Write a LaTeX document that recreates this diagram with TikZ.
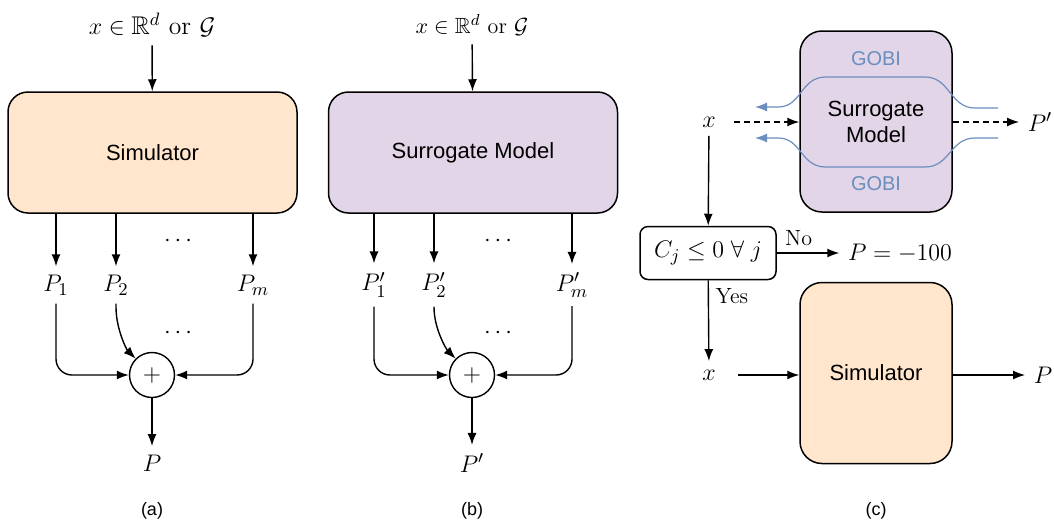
\documentclass[tikz,border=0pt]{standalone}
\usepackage{fontspec}
\setsansfont{Liberation Sans}
\usepackage{amsmath,amssymb}
\usetikzlibrary{arrows.meta, positioning}

\definecolor{simfill}{HTML}{FFE6CC}
\definecolor{surfill}{HTML}{E1D5E7}
\definecolor{gobiblue}{HTML}{6C8EBF}

\begin{document}
\begin{tikzpicture}[
        x=0.5pt, y=-0.5pt,
        every node/.style={font=\sffamily},
        line width=0.7pt,
        >={Latex[length=6pt, width=4.5pt]},
        bigbox/.style={rectangle, draw, rounded corners=10pt, line width=0.75pt, minimum width=144.5pt, minimum height=60.5pt, align=center, font=\sffamily\fontsize{11}{13}\selectfont},
        tallbox/.style={rectangle, draw, rounded corners=11pt, line width=0.75pt, minimum width=76pt, minimum height=90.5pt, align=center, font=\sffamily\fontsize{11}{13}\selectfont},
        condbox/.style={rectangle, draw, rounded corners=4pt, line width=0.75pt, minimum width=68pt, minimum height=26.5pt, font=\fontsize{12.8}{15}\selectfont},
        mathlbl/.style={inner sep=4pt, font=\fontsize{12.8}{15}\selectfont},
        plusnode/.style={circle, draw, minimum size=22.5pt, inner sep=0pt, font=\fontsize{12}{14}\selectfont},
        arrow/.style={->},
        dasharrow/.style={->, dash pattern=on 3pt off 2pt},
        gobi/.style={->, gobiblue, line width=0.6pt},
        caption/.style={font=\sffamily\fontsize{9}{11}\selectfont}
    ]
        \useasboundingbox (0,0) rectangle (1054,521);

        % (a) Simulator
        \node[mathlbl] (ina) at (152,25) {$x \in \mathbb{R}^d$ or $\mathcal{G}$};
        \node[bigbox, fill=simfill] (sima) at (152.5,152.5) {Simulator};
        \node[mathlbl] (pa1) at (56,285) {$P_1$};
        \node[mathlbl] (pa2) at (116,285) {$P_2$};
        \node[mathlbl] (pam) at (253,285) {$P_m$};
        \node[mathlbl] at (180,241) {$\cdots$};
        \node[mathlbl] at (180,333) {$\cdots$};
        \node[plusnode] (plusa) at (152,375) {$+$};
        \node[mathlbl] (outa) at (152,463) {$P$};

        \draw[arrow] (ina) -- (sima);
        \draw[arrow] (sima.south -| pa1) -- (pa1);
        \draw[arrow] (sima.south -| pa2) -- (pa2);
        \draw[arrow] (sima.south -| pam) -- (pam);
        \draw[arrow, rounded corners=8pt] (pa1) |- (plusa);
        \draw[arrow, rounded corners=8pt] (pam) |- (plusa);
        \draw[arrow] (pa2) -- ++(0,22) .. controls +(0,22) and +(-9,-9) .. (plusa.135);
        \draw[arrow] (plusa) -- (outa);

        % (b) Surrogate model
        \node[mathlbl, font=\fontsize{11}{13}\selectfont] (inb) at (472,25) {$x \in \mathbb{R}^d$ or $\mathcal{G}$};
        \node[bigbox, fill=surfill] (surb) at (473,152.5) {Surrogate Model};
        \node[mathlbl] (pb1) at (374,285) {$P'_1$};
        \node[mathlbl] (pb2) at (434,285) {$P'_2$};
        \node[mathlbl] (pbm) at (572,285) {$P'_m$};
        \node[mathlbl] at (500,241) {$\cdots$};
        \node[mathlbl] at (500,333) {$\cdots$};
        \node[plusnode] (plusb) at (472,375) {$+$};
        \node[mathlbl] (outb) at (472,463) {$P'$};

        \draw[arrow] (inb) -- (surb);
        \draw[arrow] (surb.south -| pb1) -- (pb1);
        \draw[arrow] (surb.south -| pb2) -- (pb2);
        \draw[arrow] (surb.south -| pbm) -- (pbm);
        \draw[arrow, rounded corners=8pt] (pb1) |- (plusb);
        \draw[arrow, rounded corners=8pt] (pbm) |- (plusb);
        \draw[arrow] (pb2) -- ++(0,22) .. controls +(0,22) and +(-9,-9) .. (plusb.135);
        \draw[arrow] (plusb) -- (outb);

        % (c) Constraint check, surrogate and simulator
        \node[tallbox, fill=surfill] (surc) at (876,121.5) {Surrogate\\Model};
        \node[font=\sffamily\fontsize{10}{12}\selectfont, text=gobiblue] (gobitop) at (876,59) {GOBI};
        \node[font=\sffamily\fontsize{10}{12}\selectfont, text=gobiblue] (gobibot) at (876,184) {GOBI};
        \node[mathlbl] (xsur) at (709,122) {$x$};
        \node[mathlbl] (psur) at (1040,122) {$P'$};
        \node[condbox] (cond) at (708,253) {$C_j \leq 0 \; \forall \; j$};
        \node[mathlbl] (pneg) at (900,253) {$P = -100$};
        \node[mathlbl] (xsim) at (709,375) {$x$};
        \node[tallbox, fill=simfill] (simc) at (876,373) {Simulator};
        \node[mathlbl] (psim) at (1043,375) {$P$};

        \coordinate (gobi1) at (998,108);
        \coordinate (gobi2) at (998,138);
        \coordinate (back1) at (755,107);
        \coordinate (back2) at (755,138);

        \draw[dasharrow, shorten <=5pt] (xsur) -- (surc.west |- xsur);
        \draw[dasharrow] (surc.east |- psur) -- (psur);
        \draw[gobi] (gobi1) -- ++(-23,0) .. controls +(-25,0) and +(25,0) .. (925,77) -- (826,77) .. controls +(-26,0) and +(24,0) .. (778,107) -- (back1);
        \draw[gobi] (gobi2) -- ++(-23,0) .. controls +(-25,0) and +(25,0) .. (925,167) -- (826,167) .. controls +(-26,0) and +(24,0) .. (778,138) -- (back2);
        \draw[arrow] (xsur) -- (cond);
        \draw[arrow] (cond) -- node[above, pos=0.35, font=\fontsize{11}{13}\selectfont] {No} (pneg);
        \draw[arrow] (cond) -- node[right, pos=0.2, font=\fontsize{11}{13}\selectfont] {Yes} (xsim);
        \draw[arrow, shorten <=7pt] (xsim) -- (simc.west |- xsim);
        \draw[arrow] (simc.east |- psim) -- (psim);

        % Captions
        \node[caption] (capa) at (152,511) {(a)};
        \node[caption] (capb) at (472,511) {(b)};
        \node[caption] (capc) at (876,511) {(c)};
    \end{tikzpicture}
\end{document}
